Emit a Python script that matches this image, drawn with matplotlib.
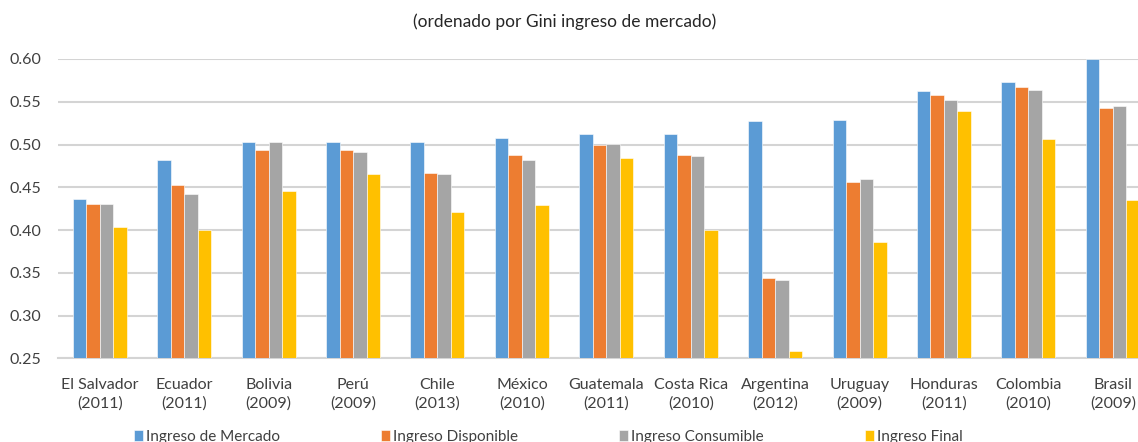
import matplotlib
matplotlib.use("Agg")
import matplotlib.pyplot as plt
import numpy as np

countries = ["El Salvador\n(2011)", "Ecuador\n(2011)", "Bolivia\n(2009)", "Perú\n(2009)",
             "Chile\n(2013)", "México\n(2010)", "Guatemala\n(2011)", "Costa Rica\n(2010)",
             "Argentina\n(2012)", "Uruguay\n(2009)", "Honduras\n(2011)", "Colombia\n(2010)",
             "Brasil\n(2009)"]
series_names = ["Ingreso de Mercado", "Ingreso Disponible", "Ingreso Consumible", "Ingreso Final"]
mercado     = [0.436, 0.482, 0.503, 0.503, 0.503, 0.508, 0.512, 0.512, 0.527, 0.529, 0.562, 0.573, 0.600]
disponible  = [0.431, 0.453, 0.494, 0.494, 0.467, 0.488, 0.499, 0.488, 0.344, 0.456, 0.558, 0.567, 0.543]
consumible  = [0.431, 0.442, 0.503, 0.491, 0.465, 0.482, 0.501, 0.486, 0.342, 0.460, 0.552, 0.564, 0.545]
final       = [0.404, 0.400, 0.446, 0.465, 0.421, 0.429, 0.484, 0.400, 0.259, 0.386, 0.539, 0.507, 0.435]
yticks = [0.25, 0.30, 0.35, 0.40, 0.45, 0.50, 0.55, 0.60]
title = "(ordenado por Gini ingreso de mercado)"

colors = ["#5B9BD5", "#ED7D31", "#A5A5A5", "#FFC000"]
W, H = 1138, 442
fig = plt.figure(figsize=(W / 100, H / 100), dpi=100)
ax = fig.add_axes([57.6 / W, 1 - 358.3 / H, (1155 - 57.6) / W, (358.3 - 59) / H])

x = np.arange(len(countries))
bw = 0.16
data = [mercado, disponible, consumible, final]
for i, (vals, name, c) in enumerate(zip(data, series_names, colors)):
    ax.bar(x + (i - 1.5) * bw, np.array(vals) - 0.25, bw, bottom=0.25, color=c,
           edgecolor="white", linewidth=0.4, label=name, zorder=3)

ax.set_xlim(-0.5, len(countries) - 0.5)
ax.set_ylim(0.25, 0.60)
ax.set_yticks(yticks)
ax.set_yticklabels([f"{v:.2f}" for v in yticks], fontsize=11.5, color="#404040",
                   family=["Lato", "DejaVu Sans"])
ax.set_xticks(x)
ax.set_xticklabels(countries, fontsize=11.5, color="#404040",
                   family=["Lato", "DejaVu Sans"], linespacing=1.4)
ax.tick_params(axis="both", length=0)
ax.tick_params(axis="y", pad=12)
ax.tick_params(axis="x", pad=14)
for s in ["left", "right", "top"]:
    ax.spines[s].set_visible(False)
ax.spines["bottom"].set_color("#d4d4d4")
ax.spines["bottom"].set_linewidth(1.5)
ax.yaxis.grid(True, color="#d4d4d4", linewidth=1.5, zorder=0)
ax.set_axisbelow(True)

fig.text(0.496, 1 - 22 / H, title, ha="center", va="center", fontsize=12.5,
         color="#262626", family=["Lato", "DejaVu Sans"])

leg = fig.legend(loc="center", bbox_to_anchor=(0.482, 1 - 437 / H), ncol=4, frameon=False,
                 handlelength=0.6, handleheight=0.7, handletextpad=0.2,
                 columnspacing=6.6, prop={"family": ["Lato", "DejaVu Sans"], "size": 11})
for t in leg.get_texts():
    t.set_color("#404040")

fig.savefig("out.png", dpi=100)
